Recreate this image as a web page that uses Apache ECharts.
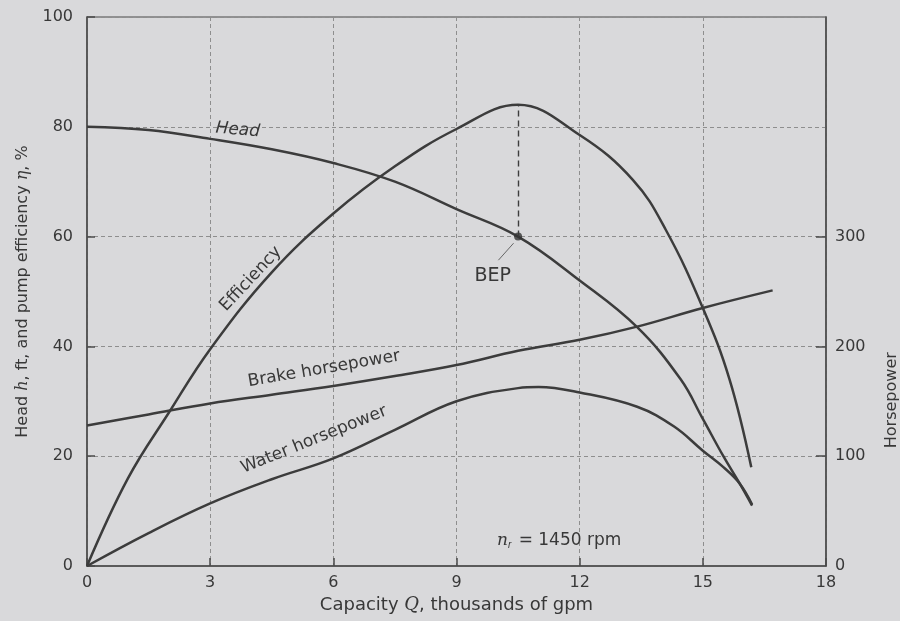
<!DOCTYPE html>
<html><head><meta charset="utf-8">
<script src="https://cdn.jsdelivr.net/npm/echarts@6/dist/echarts.min.js"></script>
<style>html,body{margin:0;padding:0;background:#d9d9db;}#c{width:900px;height:621px;}</style>
</head><body><div id="c"></div>
<script>
// Capacity Q (thousands of gpm) vs values
const head = [[0,80],[1.5,79.4],[3,77.8],[4.5,75.9],[6,73.4],[7.5,70],[9,65],[10.5,60],[12,52],[13.4,43.5],[14.46,34],[15,26.8],[15.5,20],[15.9,15],[16.2,11]];
const efficiency = [[0,0],[1,16],[2,28],[3,39.5],[4.5,53.5],[6,64.2],[7.5,72.8],[9,79.6],[10.5,84],[12,78.5],[13.3,70.3],[14.1,61.2],[15,47],[15.65,34],[16.18,18]];
const brakeHorsepower = [[0,128],[1.5,138],[3,148],[4.5,156],[6,164],[7.5,173],[9,183],[10.5,196],[12,206],[13.4,218],[15,235],[16.7,251]];
const waterHorsepower = [[0,0],[1.5,30],[3,57],[4.5,79],[6,98],[7.5,124],[9,150],[10.5,162],[11,163],[12,158],[13.4,145],[14.3,127],[15,105],[15.5,90],[15.9,75],[16.2,56]];
const bepPoint = [10.5, 60];
const bepPeak = [10.5, 84];
const bepLeader = [[10.02, 55.7], [10.39, 58.8]];
const rightTickLabels = [0, 100, 200, 300];
const rightTickMarks = [100, 200, 300];
const curveLabels = [
  {text: 'Head', q: 3.67, v: 79.4, rot: -5, italic: true},
  {text: 'Efficiency', q: 3.99, v: 52.3, rot: 47},
  {text: 'Brake horsepower', q: 5.77, v: 35.9, rot: 9.7},
  {text: 'Water horsepower', q: 5.53, v: 23.0, rot: 22},
  {text: 'BEP', q: 9.88, v: 52.8, rot: 0, size: 19},
  {text: '{n|n}{s|r} = 1450 rpm', q: 11.5, v: 4.7, rot: 0}
];

const INK = '#3c3c3c';
const TXT = '#383838';
const FONT = 'DejaVu Sans';
const dash = {type: [4, 3], color: '#8e8e8e', width: 1};

const chart = echarts.init(document.getElementById('c'), null, {renderer: 'canvas'});
const option = {
  backgroundColor: '#d9d9db',
  animation: false,
  textStyle: {fontFamily: FONT, color: TXT},
  grid: {left: 87, right: 74, top: 17, bottom: 55, show: true, borderColor: '#4a4a4a', borderWidth: 1.2, backgroundColor: 'transparent'},
  xAxis: {
    type: 'value', min: 0, max: 18, interval: 3,
    name: 'Capacity {i|Q}, thousands of gpm', nameLocation: 'middle', nameGap: 29,
    nameTextStyle: {fontSize: 18, color: TXT, fontFamily: FONT, rich: {i: {fontStyle: 'italic', fontSize: 18, fontFamily: 'DejaVu Serif', color: TXT}}},
    axisLine: {show: true, lineStyle: {color: '#4a4a4a', width: 1.5}},
    axisTick: {show: true, inside: true, length: 8, lineStyle: {color: '#4a4a4a', width: 1.5}},
    axisLabel: {fontSize: 16, color: TXT, margin: 9, fontFamily: FONT},
    splitLine: {show: true, lineStyle: dash}
  },
  yAxis: [{
    type: 'value', min: 0, max: 100, interval: 20, position: 'left',
    name: 'Head {i|h}, ft, and pump efficiency {i|η}, %', nameLocation: 'middle', nameGap: 56, nameRotate: 90,
    nameTextStyle: {fontSize: 16, color: TXT, fontFamily: FONT, rich: {i: {fontStyle: 'italic', fontSize: 16, fontFamily: 'DejaVu Serif', color: TXT}}},
    axisLine: {show: true, lineStyle: {color: '#4a4a4a', width: 1.5}},
    axisTick: {show: true, inside: true, length: 8, lineStyle: {color: '#4a4a4a', width: 1.5}},
    axisLabel: {fontSize: 16, color: TXT, margin: 14, fontFamily: FONT},
    splitLine: {show: true, lineStyle: dash}
  }, {
    type: 'value', min: 0, max: 500, interval: 100, position: 'right',
    axisLine: {show: true, lineStyle: {color: '#4a4a4a', width: 1.5}},
    axisTick: {show: true, inside: true, length: 10, customValues: rightTickMarks, lineStyle: {color: '#4a4a4a', width: 1.5}},
    axisLabel: {fontSize: 16, color: TXT, margin: 9, fontFamily: FONT, customValues: rightTickLabels},
    splitLine: {show: false}
  }],
  series: [
    {name: 'Head', type: 'line', data: head, smooth: 0.4, showSymbol: false, lineStyle: {color: INK, width: 2.5}, z: 3},
    {name: 'Efficiency', type: 'line', data: efficiency, smooth: 0.4, showSymbol: false, lineStyle: {color: INK, width: 2.5}, z: 3,
      markLine: {silent: true, symbol: 'none', label: {show: false}, animation: false,
        data: [
          [{coord: bepPoint, lineStyle: {type: [6, 4], color: INK, width: 1.4}}, {coord: bepPeak}],
          [{coord: bepLeader[0], lineStyle: {type: 'solid', color: '#666', width: 1}}, {coord: bepLeader[1]}]
        ]}},
    {name: 'Brake horsepower', type: 'line', yAxisIndex: 1, data: brakeHorsepower, smooth: 0.4, showSymbol: false, lineStyle: {color: INK, width: 2.5}, z: 3},
    {name: 'Water horsepower', type: 'line', yAxisIndex: 1, data: waterHorsepower, smooth: 0.4, showSymbol: false, lineStyle: {color: INK, width: 2.5}, z: 3},
    {name: 'BEP', type: 'scatter', data: [bepPoint], symbolSize: 8, itemStyle: {color: '#333'}, z: 4}
  ]
};
chart.setOption(option);

const graphics = curveLabels.map(function (l) {
  const p = chart.convertToPixel({gridIndex: 0}, [l.q, l.v]);
  return {
    type: 'text', x: p[0], y: p[1], rotation: l.rot * Math.PI / 180, z: 10,
    style: {
      text: l.text, fill: TXT, align: 'center', verticalAlign: 'middle',
      fontFamily: FONT, fontSize: l.size || 17, fontStyle: l.italic ? 'italic' : 'normal',
      rich: {
        n: {fontStyle: 'italic', fontFamily: 'DejaVu Serif', fontSize: 17, fill: TXT},
        s: {fontStyle: 'italic', fontSize: 10, fill: TXT, padding: [10, 2, 0, 0], verticalAlign: 'bottom'}
      }
    }
  };
});
const rp = chart.convertToPixel({xAxisIndex: 0, yAxisIndex: 1}, [18, 151]);
graphics.push({
  type: 'text', x: rp[0] + 66, y: rp[1], rotation: Math.PI / 2, z: 10,
  style: {text: 'Horsepower', fill: TXT, align: 'center', verticalAlign: 'middle', fontFamily: FONT, fontSize: 16}
});
chart.setOption({graphic: graphics});
</script>
</body></html>
